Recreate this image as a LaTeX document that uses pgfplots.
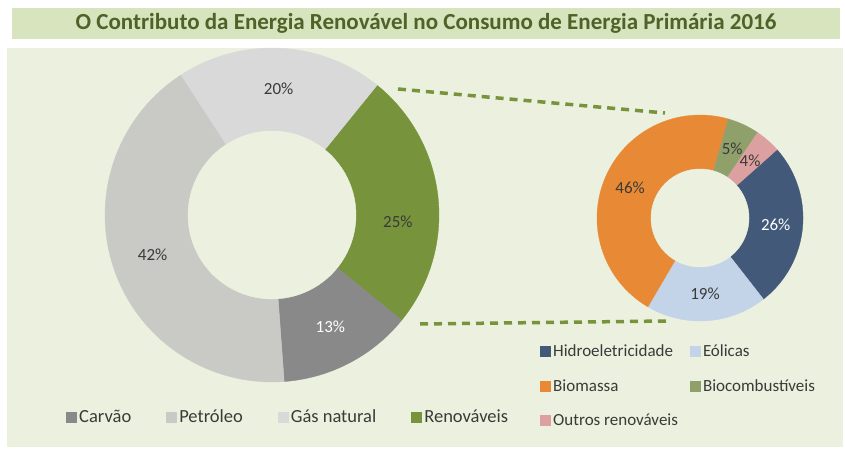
\documentclass[border=0pt]{standalone}
\usepackage{pgfplots}
\pgfplotsset{compat=1.18}
\usepackage{fontspec}
\setmainfont{Carlito}
\definecolor{bg}{HTML}{EBF1DE}
\definecolor{titlebg}{HTML}{D7E4BD}
\definecolor{titlefg}{HTML}{4F6228}
\definecolor{carvao}{HTML}{898989}
\definecolor{petroleo}{HTML}{C9C9C6}
\definecolor{gas}{HTML}{D9D9D9}
\definecolor{renov}{HTML}{77933C}
\definecolor{hidro}{HTML}{43597A}
\definecolor{eolicas}{HTML}{C3D4E8}
\definecolor{biomassa}{HTML}{E88A35}
\definecolor{biocomb}{HTML}{8FA06B}
\definecolor{outros}{HTML}{DDA0A0}
\definecolor{txt}{HTML}{3A3A3A}
\newcommand\lblfont{\fontsize{17}{20}\selectfont}
\newcommand\segstart{0}
% #1 cx, #2 cy, #3 R, #4 label radius, #5 value (%), #6 colour, #7 label colour, #8 label angle shift
\newcommand\seg[8]{%
  \pgfmathsetmacro\segend{\segstart-3.6*#5}%
  \pgfmathsetmacro\segmid{\segstart-1.8*#5+#8}%
  \pgfmathsetmacro\labx{#1+#4*cos(\segmid)}%
  \pgfmathsetmacro\laby{#2+#4*sin(\segmid)}%
  \edef\tmp{\noexpand\addplot[fill=#6,draw=#6,line width=0.3pt,forget plot,domain=\segend:\segstart,samples=90,variable=\noexpand\t] ({#1+#3*cos(\noexpand\t)},{#2+#3*sin(\noexpand\t)}) -- (axis cs:#1,#2) -- cycle;
    \noexpand\node[text=#7,font=\noexpand\lblfont] at (axis cs:\labx,\laby) {#5\noexpand\%};}%
  \tmp
  \xdef\segstart{\segend}}
\pgfplotsset{
  base/.style={width=845pt,height=450pt,scale only axis,xmin=0,xmax=845,ymin=0,ymax=450,hide axis,clip=false,
    legend image code/.code={\fill[##1,draw=none] (0pt,-5.5pt) rectangle (11pt,5.5pt);},
    legend cell align=left},
}
\begin{document}
\begin{tikzpicture}
\begin{axis}[base,
  legend columns=4,
  legend style={draw=none,fill=none,inner sep=0pt,at={(axis cs:66,33)},anchor=west,
    font=\fontsize{18.5}{21}\selectfont,text=txt,
    /tikz/every even column/.append style={column sep=33pt}}]
\fill[white] (axis cs:0,0) rectangle (axis cs:845,450);
\fill[titlebg] (axis cs:12,411) rectangle (axis cs:840,442);
\fill[bg] (axis cs:7,3) rectangle (axis cs:843,402);
\node[font=\fontsize{23}{26}\selectfont\bfseries,text=titlefg] at (axis cs:426,426.5) {O Contributo da Energia Renovável no Consumo de Energia Primária 2016};
% main doughnut, clockwise from 51 degrees
\xdef\segstart{51}
\seg{272}{235}{167}{126}{25}{renov}{txt}{-9}
\seg{272}{235}{167}{126}{13}{carvao}{white}{0}
\seg{272}{235}{167}{126}{42}{petroleo}{txt}{0}
\seg{272}{235}{167}{126}{20}{gas}{txt}{0}
\addplot[fill=bg,draw=bg,forget plot,domain=0:360,samples=150] ({272+84*cos(x)},{235+84*sin(x)}) -- cycle;
% connector lines
\addplot[renov,line width=3.5pt,dash pattern=on 8pt off 6pt,forget plot] coordinates {(398,361) (665,337)};
\addplot[renov,line width=3.5pt,dash pattern=on 8pt off 6pt,forget plot] coordinates {(420,126) (667,129)};
\addlegendimage{fill=carvao}\addlegendentry{Carvão}
\addlegendimage{fill=petroleo}\addlegendentry{Petróleo}
\addlegendimage{fill=gas}\addlegendentry{Gás natural}
\addlegendimage{fill=renov}\addlegendentry{Renováveis}
\end{axis}
\begin{axis}[base,
  legend columns=2,
  legend style={draw=none,fill=none,inner sep=0pt,at={(axis cs:540,64)},anchor=west,
    font=\fontsize{17}{20}\selectfont,text=txt,row sep=17pt,
    /tikz/every even column/.append style={column sep=10pt}}]
\xdef\segstart{41.6}
\seg{700}{232}{103}{76}{26}{hidro}{white}{0}
\seg{700}{232}{103}{76}{19}{eolicas}{txt}{0}
\seg{700}{232}{103}{76}{46}{biomassa}{txt}{0}
\seg{700}{232}{103}{76}{5}{biocomb}{txt}{0}
\seg{700}{232}{103}{76}{4}{outros}{txt}{0}
\addplot[fill=bg,draw=bg,forget plot,domain=0:360,samples=150] ({700+49*cos(x)},{232+49*sin(x)}) -- cycle;
\addlegendimage{fill=hidro}\addlegendentry{Hidroeletricidade}
\addlegendimage{fill=eolicas}\addlegendentry{Eólicas}
\addlegendimage{fill=biomassa}\addlegendentry{Biomassa}
\addlegendimage{fill=biocomb}\addlegendentry{Biocombustíveis}
\addlegendimage{fill=outros}\addlegendentry{Outros renováveis}
\end{axis}
\end{tikzpicture}
\end{document}
